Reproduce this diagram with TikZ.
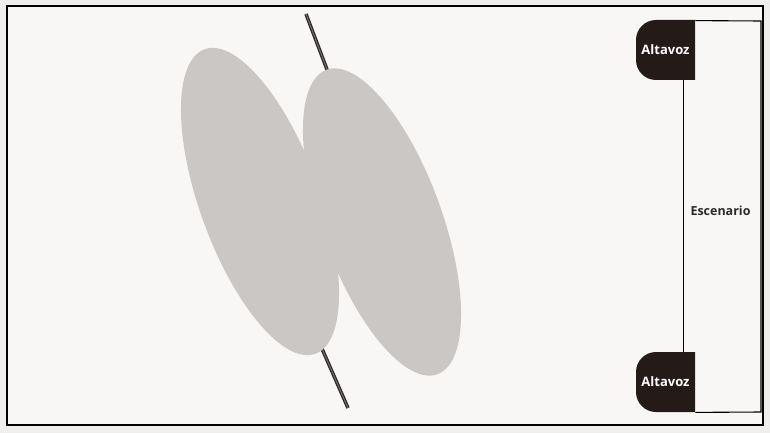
\documentclass[tikz,border=0pt]{standalone}
\usepackage{fontspec}
\setsansfont{Open Sans}
\usetikzlibrary{positioning}
\definecolor{pagebg}{HTML}{EFEEEC}
\definecolor{framebg}{HTML}{F8F7F6}
\definecolor{lobegray}{HTML}{CBC7C4}
\definecolor{spkdark}{HTML}{241A17}
\definecolor{roddark}{HTML}{2E2A28}
\definecolor{rodlight}{HTML}{77716E}
\definecolor{textdark}{HTML}{2A2A2A}
\begin{document}
\begin{tikzpicture}[x=1pt,y=-1pt,thick]
\tikzstyle{lobe}=[fill=lobegray]
\tikzstyle{rod}=[draw=roddark,line width=1.3pt,double=rodlight,double distance=0.9pt]
\tikzstyle{spkbody}=[fill=spkdark]
\tikzstyle{spk}=[rectangle,minimum width=59pt,minimum height=60pt,inner sep=0pt,text=white,font=\sffamily\bfseries\fontsize{13}{15}\selectfont]
\tikzstyle{stage}=[draw=black,line width=1.1pt]
\useasboundingbox (0,0) rectangle (770,433);
\fill[pagebg] (0,0) rectangle (770,433);
\draw[fill=framebg,line width=2pt] (7,6) rectangle (763,425);
% microphone rod
\draw[rod] (306,14) -- (334,88);
\draw[rod] (348,408) -- (316,335);
% figure-eight lobes
\fill[lobe,rotate around={20:(260,201.5)}] (260,201.5) ellipse (60 and 162);
\fill[lobe,rotate around={20:(382,222)}] (382,222) ellipse (60 and 162);
% speakers
\fill[spkbody] (695,20) [rounded corners=20pt] -- (636,20) -- (636,80) [sharp corners] -- (695,80) -- cycle;
\fill[spkbody] (695,352) [rounded corners=20pt] -- (636,352) -- (636,412) [sharp corners] -- (695,412) -- cycle;
\node[spk] (spk1) at (665.5,50) {Altavoz};
\node[spk] (spk2) at (665.5,382) {Altavoz};
\coordinate (stNE) at (761,21);
\coordinate (stSE) at (761,412);
\draw[stage] (spk1.south) ++(18,0) coordinate (stTop) -- (stTop |- spk2.north);
\draw[stage] (spk1.north east) ++(0,1) -- (stNE) -- (stSE) -- (spk2.south east);
\node[text=textdark,font=\sffamily\bfseries\fontsize{12.5}{15}\selectfont] (esc) at (720.5,211) {Escenario};
\end{tikzpicture}
\end{document}
